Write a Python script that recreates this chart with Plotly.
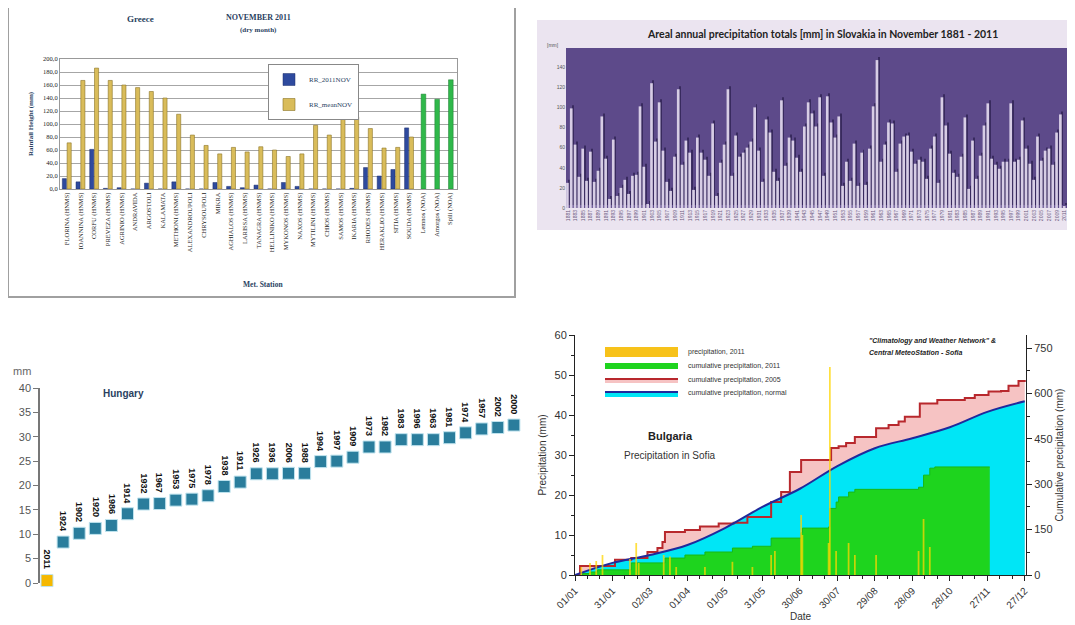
import datetime

import plotly.graph_objects as go

# the page adds an 8px body margin, so the figure is drawn 8px smaller and coords shifted
OFF = 8
W, H = 1075 - OFF, 625 - OFF


def px(x):
    return (x - OFF) / W


def py(y):
    return 1 - (y - OFF) / H


# ---------------- Greece ----------------
gr_stations = [
    "FLORINA (HNMS)", "IOANNINA (HNMS)", "CORFU (HNMS)", "PREVEZA (HNMS)", "AGRINIO (HNMS)",
    "ANDRAVIDA", "ARGOSTOLI", "KALAMATA", "METHONI (HNMS)", "ALEXANDROUPOLI", "CHRYSOUPOLI",
    "MIKRA", "AGHIALOS (HNMS)", "LARISSA (HNMS)", "TANAGRA (HNMS)", "HELLINIKO (HNMS)",
    "MYKONOS (HNMS)", "NAXOS (HNMS)", "MYTILINI (HNMS)", "CHIOS (HNMS)", "SAMOS (HNMS)",
    "IKARIA (HNMS)", "RHODES (HNMS)", "HERAKLIO (HNMS)", "SITIA (HNMS)", "SOUDA (HNMS)",
    "Lemnos (NOA)", "Amorgos (NOA)", "Spili (NOA)",
]
gr_rr_2011 = [16, 11, 61, 1, 2, 0, 9, 0, 11, 0, 0, 10, 4, 2, 6, 0, 10, 4, 0, 0, 0, 1,
              33, 20, 30, 94, None, None, None]
gr_rr_mean = [71, 167, 186, 167, 160, 156, 150, 140, 115, 83, 67, 54, 64, 57, 65, 60, 50,
              54, 98, 83, 114, 111, 93, 63, 64, 80, None, None, None]
gr_noa = [None] * 26 + [146, 138, 168]

# ---------------- Slovakia ----------------
sk_years = list(range(1881, 2012))
sk_precip = [
    25, 99, 63, 31, 59, 27, 56, 26, 37, 91,
    49, 9, 68, 12, 20, 28, 14, 32, 33, 101,
    41, 4, 124, 66, 105, 57, 26, 17, 51, 118,
    43, 67, 55, 18, 70, 55, 48, 32, 84, 12,
    45, 63, 118, 32, 72, 51, 55, 60, 66, 100,
    57, 26, 88, 75, 36, 27, 107, 42, 70,
    67, 50, 36, 81, 105, 94, 81, 110, 32, 111,
    85, 70, 91, 22, 46, 27, 64, 22, 55, 23,
    59, 101, 147, 46, 63, 85, 84, 36, 64, 71,
    72, 56, 44, 48, 46, 29, 59, 71, 25, 110,
    82, 54, 35, 31, 51, 90, 19, 67, 29, 52,
    82, 104, 49, 43, 39, 46, 46, 104, 46, 48,
    87, 59, 44, 28, 71, 47, 57, 59, 43, 75, 93, 2,
]

# ---------------- Hungary ----------------
hu_years = ["2011", "1924", "1902", "1920", "1986", "1914", "1932", "1967", "1953", "1975",
            "1978", "1938", "1911", "1926", "1936", "2006", "1988", "1994", "1997", "1909",
            "1973", "1982", "1983", "1996", "1963", "1981", "1974", "1957", "2002", "2000"]
hu_precip = [0.5, 8.4, 10.2, 11.2, 11.8, 14.2, 16.2, 16.3, 17.0, 17.2,
             17.9, 19.8, 20.7, 22.4, 22.4, 22.5, 22.5, 24.9, 25.0, 25.8,
             27.9, 27.9, 29.4, 29.4, 29.4, 29.8, 30.8, 31.6, 31.9, 32.4]

# ---------------- Bulgaria (Sofia) ----------------
bg_start = datetime.date(2011, 1, 1)
bg_norm_days = [0, 30, 60, 90, 120, 150, 180, 210, 240, 270, 300, 330, 360]
bg_norm_cum = [0, 40, 66, 99, 155, 225, 285, 360, 419, 452, 488, 539, 574]
bg_2005_days = [0, 4, 32, 45, 58, 66, 70, 72, 88, 100, 115, 127, 138, 157, 165, 172, 181,
                205, 211, 217, 224, 241, 251, 259, 264, 276, 290, 312, 320, 331, 341, 347,
                355, 360]
bg_2005_cum = [0, 30, 50, 56, 76, 89, 109, 142, 149, 160, 170, 173, 192, 241, 274, 340, 380,
               420, 425, 436, 456, 485, 496, 507, 523, 567, 578, 585, 595, 606, 608, 625,
               641, 644]
bg_2011_days = [0, 6, 12, 18, 45, 72, 88, 104, 126, 142, 157, 181, 182, 203, 204, 209, 211,
                219, 224, 275, 279, 284, 288, 332]
bg_2011_cum = [0, 5, 10, 17, 40, 56, 66, 76, 89, 95, 122, 140, 155, 159, 220, 241, 258, 274,
               283, 290, 330, 353, 357, 357]
bg_daily_days = [5, 12, 17, 22, 44, 49, 51, 71, 76, 81, 104, 126, 142, 157, 160, 181, 182,
                 203, 204, 209, 219, 224, 241, 275, 279, 284]
bg_daily_mm = [2, 3, 3.5, 5, 4, 8, 3, 5, 4.6, 2, 2, 3.3, 2, 5, 6, 15, 10, 8, 52, 6, 8, 5, 5,
               6, 14, 7]


def to_dates(days):
    return [bg_start + datetime.timedelta(days=d) for d in days]


SERIF = "Liberation Serif"
SANS = "Liberation Sans"

fig = go.Figure()

# Greece bars
fig.add_trace(go.Bar(x=gr_stations, y=gr_rr_2011, name="RR_2011NOV", xaxis="x", yaxis="y",
                     marker=dict(color="#2e4a9e", line=dict(color="#1c2f6a", width=0.5)),
                     width=0.3, offset=-0.33, legendgroup="a"))
fig.add_trace(go.Bar(x=gr_stations, y=gr_rr_mean, name="RR_meanNOV", xaxis="x", yaxis="y",
                     marker=dict(color="#d9bc5a", line=dict(color="#8c7325", width=0.6)),
                     width=0.3, offset=0.02, legendgroup="b"))
fig.add_trace(go.Bar(x=gr_stations, y=gr_noa, xaxis="x", yaxis="y", showlegend=False,
                     marker=dict(color="#2fb84a", line=dict(color="#1d7d30", width=0.5)),
                     width=0.34, offset=-0.12))

# Slovakia bars (with dark 3D shadow)
fig.add_trace(go.Bar(x=sk_years, y=sk_precip, base=3, xaxis="x2", yaxis="y2", showlegend=False,
                     marker=dict(color="#382a5e", line=dict(width=0)), width=0.26, offset=0.22))
fig.add_trace(go.Bar(x=sk_years, y=sk_precip, xaxis="x2", yaxis="y2", showlegend=False,
                     marker=dict(color="#d7cde5", line=dict(width=0)), width=0.7, offset=-0.48))

# Hungary markers
hu_x = list(range(len(hu_years)))
hu_colors = ["#f5b800"] + ["#2a7d9c"] * (len(hu_years) - 1)
fig.add_trace(go.Scatter(x=hu_x, y=hu_precip, mode="markers", xaxis="x3", yaxis="y3",
                         showlegend=False, cliponaxis=False,
                         marker=dict(symbol="square", size=12, color=hu_colors,
                                     line=dict(color="#bfe3ee", width=1))))

# Bulgaria cumulative (right axis, base y4)
fig.add_trace(go.Scatter(x=to_dates(bg_2005_days), y=bg_2005_cum, mode="lines",
                         line=dict(shape="hv", width=0), fill="tozeroy",
                         fillcolor="#f6c3c3", xaxis="x4", yaxis="y4", showlegend=False))
fig.add_trace(go.Scatter(x=to_dates(bg_norm_days), y=bg_norm_cum, mode="lines",
                         line=dict(shape="spline", width=0), fill="tozeroy",
                         fillcolor="#00e6f6", xaxis="x4", yaxis="y4", showlegend=False))
fig.add_trace(go.Scatter(x=to_dates(bg_2011_days), y=bg_2011_cum, mode="lines",
                         line=dict(shape="hv", width=1, color="#17b817"), fill="tozeroy",
                         fillcolor="#1ed41e", xaxis="x4", yaxis="y4", showlegend=False))
fig.add_trace(go.Scatter(x=to_dates(bg_2005_days), y=bg_2005_cum, mode="lines",
                         line=dict(shape="hv", width=2, color="#b8282d"),
                         xaxis="x4", yaxis="y4", showlegend=False))
fig.add_trace(go.Scatter(x=to_dates(bg_norm_days), y=bg_norm_cum, mode="lines",
                         line=dict(shape="spline", width=2, color="#1f2a9c"),
                         xaxis="x4", yaxis="y4", showlegend=False))
# Bulgaria daily precipitation (left axis, overlay y5)
fig.add_trace(go.Bar(x=to_dates(bg_daily_days), y=bg_daily_mm, xaxis="x4", yaxis="y5",
                     showlegend=False, width=86400000 * 1.4, offset=-86400000 * 0.7,
                     marker=dict(color="rgba(255,214,0,0.75)", line=dict(width=0))))

shapes = [
    dict(type="rect", xref="paper", yref="paper", x0=px(8), x1=px(515), y0=py(297), y1=py(5),
         fillcolor="white", line=dict(color="#a0a0a0", width=2), layer="below"),
    dict(type="rect", xref="paper", yref="paper", x0=px(537), x1=px(1070), y0=py(230),
         y1=py(20), fillcolor="#ebe4f0", line=dict(width=0), layer="below"),
    dict(type="rect", xref="x2 domain", yref="y2 domain", x0=0, x1=1, y0=0, y1=1,
         fillcolor="#5d4a8a", line=dict(width=0), layer="below"),
]

# Bulgaria manual legend
bg_leg_y = [352, 366, 380, 393]
bg_leg_text = ["precipitation, 2011", "cumulative precipitation, 2011",
               "cumulative precipitation, 2005", "cumulative precipitation, normal"]
x0l, x1l = px(605), px(678)
shapes += [
    dict(type="rect", xref="paper", yref="paper", x0=x0l, x1=x1l, y0=py(bg_leg_y[0] + 5),
         y1=py(bg_leg_y[0] - 5), fillcolor="#f7c21a", line=dict(width=0)),
    dict(type="rect", xref="paper", yref="paper", x0=x0l, x1=x1l, y0=py(bg_leg_y[1] + 3),
         y1=py(bg_leg_y[1] - 3), fillcolor="#1ed41e", line=dict(width=0)),
    dict(type="rect", xref="paper", yref="paper", x0=x0l, x1=x1l, y0=py(bg_leg_y[2] + 3),
         y1=py(bg_leg_y[2] - 1), fillcolor="#f6c3c3", line=dict(width=0)),
    dict(type="line", xref="paper", yref="paper", x0=x0l, x1=x1l, y0=py(bg_leg_y[2] - 1),
         y1=py(bg_leg_y[2] - 1), line=dict(color="#b8282d", width=2)),
    dict(type="rect", xref="paper", yref="paper", x0=x0l, x1=x1l, y0=py(bg_leg_y[3] + 4),
         y1=py(bg_leg_y[3] - 1), fillcolor="#00e6f6", line=dict(width=0)),
    dict(type="line", xref="paper", yref="paper", x0=x0l, x1=x1l, y0=py(bg_leg_y[3] - 1),
         y1=py(bg_leg_y[3] - 1), line=dict(color="#1f2a9c", width=2)),
]

annotations = [
    dict(text="<b>Greece</b>", x=px(140), y=py(19), font=dict(family=SERIF, size=9)),
    dict(text="<b>NOVEMBER 2011</b>", x=px(258), y=py(18), font=dict(family=SERIF, size=8)),
    dict(text="<b>(dry month)</b>", x=px(258), y=py(30), font=dict(family=SERIF, size=7)),
    dict(text="<b>Met. Station</b>", x=px(263), y=py(284), font=dict(family=SERIF, size=7.5)),
    dict(text="<b>Areal annual precipitation totals [mm] in Slovakia in November 1881 - 2011</b>",
         x=px(822), y=py(34), font=dict(family="Lato", size=10.5, color="#222")),
    dict(text="[mm]", x=px(553), y=py(45), font=dict(family=SANS, size=5, color="#555")),
    dict(text="mm", x=px(22), y=py(371), font=dict(family=SANS, size=11, color="#666")),
    dict(text="<b>Hungary</b>", x=px(123), y=py(393), font=dict(family=SANS, size=10)),
    dict(text="<b>Bulgaria</b>", x=px(670), y=py(436), font=dict(family=SANS, size=11, color="#222")),
    dict(text="Precipitation in Sofia", x=px(670), y=py(455),
         font=dict(family=SANS, size=10, color="#333")),
    dict(text="<b><i>\"Climatology and Weather Network\" &</i></b>", x=px(867), y=py(341),
         xanchor="left", font=dict(family=SANS, size=7, color="#222")),
    dict(text="<b><i>Central MeteoStation - Sofia</i></b>", x=px(867), y=py(352),
         xanchor="left", font=dict(family=SANS, size=7, color="#222")),
]
for yy, tt in zip(bg_leg_y, bg_leg_text):
    annotations.append(dict(text=tt, x=px(686), y=py(yy), xanchor="left",
                            font=dict(family=SANS, size=7, color="#333")))
for a in annotations:
    a.setdefault("xref", "paper")
    a.setdefault("yref", "paper")
    a.setdefault("xanchor", "center")
    a.setdefault("yanchor", "middle")
    a.setdefault("showarrow", False)
for i, (yr, v) in enumerate(zip(hu_years, hu_precip)):
    annotations.append(dict(text="<b>" + yr + "</b>", x=i, y=v, xref="x3", yref="y3",
                            showarrow=False, textangle=90, xanchor="center",
                            yanchor="bottom", yshift=9,
                            font=dict(family=SANS, size=9, color="#111")))

day_ms = 86400000
axis_black = dict(showline=True, linecolor="#222", linewidth=1, ticks="outside",
                  tickcolor="#222", ticklen=5, showgrid=False, zeroline=False,
                  tickfont=dict(family=SANS, size=11, color="#333"))

fig.update_layout(
    width=W, height=H, margin=dict(l=0, r=0, t=0, b=0, autoexpand=False),
    paper_bgcolor="white", plot_bgcolor="rgba(0,0,0,0)",
    barmode="overlay", separators=",.",
    showlegend=True,
    legend=dict(x=px(268), y=py(64), xanchor="left", yanchor="top", bgcolor="white",
                bordercolor="#888", borderwidth=1, tracegroupgap=6, itemwidth=30,
                font=dict(family=SERIF, size=7)),
    shapes=shapes, annotations=annotations,
    # Greece
    xaxis=dict(domain=[px(60), px(457)], anchor="y", type="category", range=[-0.5, 28.5],
               tickangle=-90, tickfont=dict(family=SERIF, size=6.5, color="#222"),
               showline=True, mirror=True, linecolor="#999", showgrid=False, ticks=""),
    yaxis=dict(domain=[py(189), py(59)], anchor="x", range=[0, 200], dtick=20,
               tickformat=".1f", gridcolor="#a6a6a6", zeroline=False,
               tickfont=dict(family=SERIF, size=6.5, color="#222"),
               showline=True, mirror=True, linecolor="#999",
               title=dict(text="<b>Rainfall Height (mm)</b>", standoff=8,
                          font=dict(family=SERIF, size=7))),
    # Slovakia
    xaxis2=dict(domain=[px(566), px(1067)], anchor="y2", range=[1880.5, 2011.6],
                tick0=1881, dtick=2, tickangle=-90, showgrid=False, zeroline=False,
                ticks="", tickfont=dict(family=SANS, size=5, color="#6a5a80")),
    yaxis2=dict(domain=[py(208), py(48)], anchor="x2", range=[0, 159], dtick=20,
                showgrid=False, zeroline=False, ticks="",
                tickfont=dict(family=SANS, size=5, color="#555")),
    # Hungary
    xaxis3=dict(domain=[px(40), px(530)], anchor="y3", range=[-0.435, 30.0], visible=False),
    yaxis3=dict(domain=[py(583), py(388)], anchor="x3", range=[0, 40], dtick=5,
                showline=True, linecolor="#777", linewidth=1.5, ticks="outside", ticklen=5,
                tickcolor="#777", showgrid=False, zeroline=False,
                tickfont=dict(family=SANS, size=11, color="#555")),
    # Bulgaria
    xaxis4=dict(domain=[px(575), px(1026)], anchor="y4", type="date",
                range=["2011-01-01", "2011-12-28"], tick0="2011-01-01", dtick=30 * day_ms,
                tickformat="%d/%m", tickangle=-45,
                minor=dict(ticks="outside", dtick=10 * day_ms, tick0="2011-01-01",
                           ticklen=3, tickcolor="#222"),
                title=dict(text="Date", standoff=0, font=dict(family=SANS, size=10, color="#333")),
                **{**axis_black, "tickfont": dict(family=SANS, size=10, color="#333")}),
    yaxis4=dict(domain=[py(575), py(335)], anchor="x4", side="right", range=[0, 793],
                dtick=150, minor=dict(ticks="outside", dtick=75, ticklen=3, tickcolor="#222"),
                title=dict(text="Cumulative precipitation (mm)", standoff=4,
                           font=dict(family=SANS, size=10, color="#333")),
                **axis_black),
    yaxis5=dict(overlaying="y4", anchor="x4", side="left", range=[0, 60], dtick=10,
                minor=dict(ticks="outside", dtick=5, ticklen=3, tickcolor="#222"),
                title=dict(text="Precipitation (mm)", standoff=6,
                           font=dict(family=SANS, size=10, color="#333")),
                **axis_black),
)

fig.write_html("out.html")
